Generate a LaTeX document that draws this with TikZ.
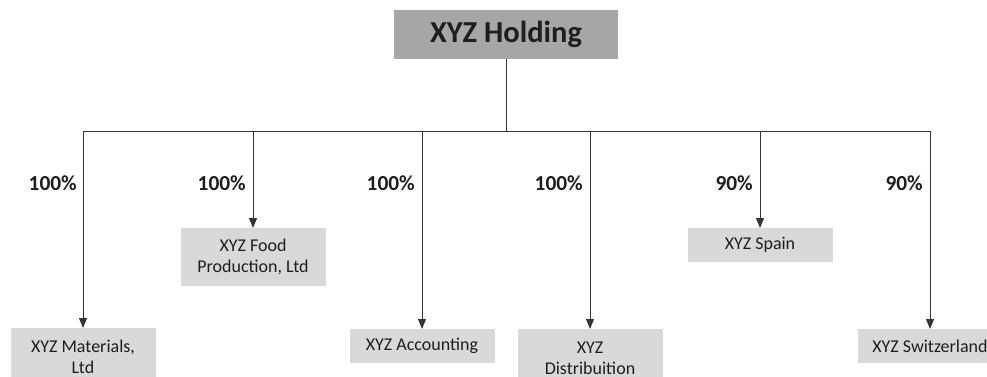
\documentclass[tikz,border=0pt]{standalone}
\usepackage{fontspec}
\setmainfont{Carlito}
\usetikzlibrary{arrows.meta,positioning}
\definecolor{head}{HTML}{A6A6A6}
\definecolor{unit}{HTML}{D9D9D9}
\definecolor{ink}{HTML}{1E1E1E}
\begin{document}
\begin{tikzpicture}[x=1pt,y=-1pt,
 holding/.style={fill=head,minimum width=224pt,minimum height=49pt,font=\fontsize{30.5}{36}\selectfont\bfseries,text=ink},
 unitbox/.style={fill=unit,minimum width=145pt,inner sep=2pt,align=center,font=\fontsize{18}{21}\selectfont,text=ink},
 one/.style={unitbox,minimum height=34pt},
 two/.style={unitbox,minimum height=58pt},
 share/.style={anchor=east,inner sep=0pt,font=\fontsize{21.4}{25}\selectfont\bfseries,text=ink},
 bus/.style={ink!90,line width=1pt},
 own/.style={bus,-{Triangle[length=10pt,width=8pt]}}]
 \useasboundingbox (0,0) rectangle (987,377);
 \node[holding] (hold) at (506,34.5) {XYZ Holding};
 \coordinate (busL) at (83,131); \coordinate (busR) at (930,131);
 \node[two,anchor=north] (mat) at (83,328) {XYZ Materials,\\Ltd};
 \node[two,anchor=north] (food) at (253,228) {XYZ Food\\Production, Ltd};
 \node[one,anchor=north] (acc) at (422,329) {XYZ Accounting};
 \node[two,anchor=north] (dist) at (590,329) {XYZ\\Distribuition};
 \node[one,anchor=north] (spain) at (760,228) {XYZ Spain};
 \node[one,anchor=north] (swiss) at (930,329) {XYZ Switzerland};
 \draw[bus] (hold.south) -- (hold.south |- busL); \draw[bus] (busL) -- (busR);
 \draw[own] (mat.north |- busL) -- (mat.north); \draw[own] (food.north |- busL) -- (food.north);
 \draw[own] (acc.north |- busL) -- (acc.north); \draw[own] (dist.north |- busL) -- (dist.north);
 \draw[own] (spain.north |- busL) -- (spain.north); \draw[own] (swiss.north |- busL) -- (swiss.north);
 \node[share] (pmat) at (77,183) {100\%}; \node[share] (pfood) at (246,183) {100\%};
 \node[share] (pacc) at (415,183) {100\%}; \node[share] (pdist) at (583,183) {100\%};
 \node[share] (pspain) at (753,183) {90\%}; \node[share] (pswiss) at (923,183) {90\%};
\end{tikzpicture}
\end{document}
